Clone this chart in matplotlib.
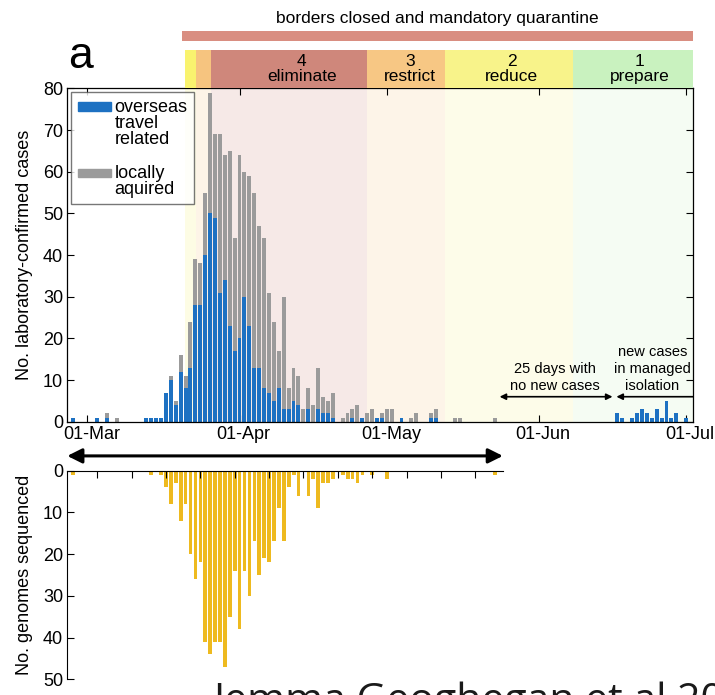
import numpy as np
import matplotlib.pyplot as plt
from matplotlib.patches import Patch, Rectangle
from matplotlib.legend_handler import HandlerPatch
from matplotlib.transforms import ScaledTranslation

plt.rcParams['font.family'] = ['Liberation Sans', 'DejaVu Sans']

# day numbers counted from 01-Mar-2020
case_days = [-3, 2, 4, 6, 12, 13, 14, 15, 16, 17, 18, 19, 20, 21, 22, 23, 24, 25, 26,
             27, 28, 29, 30, 31, 32, 33, 34, 35, 36, 37, 38, 39, 40, 41, 42, 43, 44,
             45, 46, 47, 48, 49, 50, 52, 53, 54, 55, 56, 57, 58, 59, 60, 61, 62, 64,
             66, 67, 70, 71, 75, 76, 83, 108, 109, 111, 112, 113, 114, 115, 116, 117,
             118, 119, 120, 122]
overseas = [1, 1, 1, 0, 1, 1, 1, 1, 7, 10, 4, 12, 8, 13, 28, 28, 40, 50, 49,
            31, 34, 23, 17, 20, 30, 23, 13, 13, 8, 7, 5, 8, 3, 3, 5, 4, 0,
            3, 0, 3, 2, 2, 1, 0, 0, 1, 0, 1, 0, 0, 1, 1, 0, 0, 1,
            0, 0, 1, 1, 0, 0, 0, 2, 1, 1, 2, 3, 2, 1, 3, 1,
            5, 1, 2, 1]
local = [0, 0, 1, 1, 0, 0, 0, 0, 0, 1, 1, 4, 3, 11, 11, 10, 15, 29, 20,
         38, 30, 42, 27, 44, 30, 36, 42, 34, 36, 24, 19, 9, 27, 5, 8, 7, 3,
         5, 4, 10, 4, 3, 6, 1, 2, 2, 4, 0, 2, 3, 0, 1, 3, 3, 0,
         1, 2, 1, 2, 1, 1, 1, 0, 0, 0, 0, 0, 0, 0, 0, 0,
         0, 0, 0, 0]

genome_days = [-3, 13, 15, 16, 17, 18, 19, 20, 21, 22, 23, 24, 25, 26, 27, 28, 29, 30,
               31, 32, 33, 34, 35, 36, 37, 38, 39, 40, 41, 42, 43, 45, 46, 47, 48, 49,
               50, 52, 53, 54, 55, 56, 58, 61, 83]
genomes = [1, 1, 1, 4, 8, 3, 12, 8, 20, 26, 22, 41, 44, 41, 41, 47, 35, 24,
           38, 24, 30, 17, 25, 21, 22, 17, 9, 17, 4, 1, 6, 6, 2, 9, 3, 3,
           2, 1, 2, 2, 3, 1, 1, 2, 1]

level_start = [19.9, 22.1, 25.1, 57.0, 72.8, 98.9]
level_colors = ['#f9f36e', '#f6c47f', '#cf877b', '#f7c784', '#f8f38a', '#c9f2bf']
level_names = ['4\neliminate', '3\nrestrict', '2\nreduce', '1\nprepare']
level_label_day = [43.7, 65.7, 86.5, 112.5]
border_start = 19.2

month_ticks = [0, 31, 61, 92, 122]
month_labels = ['01-Mar', '01-Apr', '01-May', '01-Jun', '01-Jul']

blue = '#1d71c2'
grey = '#9b9b9b'
gold = '#eeba1f'
x0, x1 = -4.1, 123.4
g1 = 84.6


class RaisedPatch(HandlerPatch):
    # legend patch lifted up to sit next to the first line of a multi-line label
    def __init__(self, lift, **kw):
        super().__init__(**kw)
        self.lift = lift

    def create_artists(self, legend, orig_handle, xdescent, ydescent,
                       width, height, fontsize, trans):
        p = Rectangle((-xdescent, -ydescent + self.lift * fontsize), width, height)
        self.update_prop(p, orig_handle, legend)
        p.set_transform(trans)
        return [p]


fig = plt.figure(figsize=(7.15, 6.95), dpi=100)
ax = fig.add_axes([0.0941, 0.3932, 0.8751, 0.4797])
ax_lv = fig.add_axes([0.0941, 0.8729, 0.8751, 0.0551])
ax_bd = fig.add_axes([0.0941, 0.9403, 0.8751, 0.0158])
ax_g = fig.add_axes([0.0941, 0.0226, 0.6092, 0.3004])

# alert level strip and pale background
ends = level_start[1:] + [x1]
for s, e, c in zip(level_start, ends, level_colors):
    ax_lv.axvspan(s, e, color=c, lw=0)
    ax.axvspan(s, e, color=c, alpha=0.18, lw=0, zorder=0)
for d, name in zip(level_label_day, level_names):
    ax_lv.text(d, 0.5, name, ha='center', va='center', fontsize=12.5, linespacing=0.95)
ax_lv.set_xlim(x0, x1)
ax_lv.set_ylim(0, 1)
ax_lv.axis('off')

ax_bd.axvspan(border_start, x1, color='#d98e81', lw=0)
ax_bd.set_xlim(x0, x1)
ax_bd.axis('off')
fig.text(437 / 715, 1 - 18 / 695, 'borders closed and mandatory quarantine',
         ha='center', va='center', fontsize=12.5)

# case bars
b1 = ax.bar(case_days, overseas, width=0.8, color=blue, lw=0, zorder=2)
b2 = ax.bar(case_days, local, width=0.8, bottom=overseas, color=grey, lw=0, zorder=2)
ax.set_xlim(x0, x1)
ax.set_ylim(0, 80)
ax.set_yticks(range(0, 81, 10))
ax.set_xticks(month_ticks)
ax.set_xticklabels(month_labels)
ax.tick_params(direction='in', top=True, right=True, length=5, labelsize=13, pad=3)
for lab in ax.get_xticklabels():
    lab.set_transform(lab.get_transform() + ScaledTranslation(4 / 100, 0, fig.dpi_scale_trans))
for sp in ax.spines.values():
    sp.set_linewidth(0.9)
ax.set_ylabel('No. laboratory-confirmed cases', fontsize=13)
ax.yaxis.set_label_coords(-0.0548, 0.5)

h1 = Patch(color=blue)
h2 = Patch(color=grey)
leg = ax.legend(handles=[h1, h2],
                labels=['overseas\ntravel\nrelated', 'locally\naquired'],
                handler_map={h1: RaisedPatch(0.92), h2: RaisedPatch(0.46)},
                loc='upper left', fontsize=13, frameon=True, fancybox=False,
                borderaxespad=0.22, handlelength=1.85, handleheight=0.38,
                handletextpad=0.2, labelspacing=0.9, borderpad=0.35)
leg.get_frame().set_edgecolor('#555555')
leg.get_frame().set_linewidth(1.0)
for t in leg.get_texts():
    t.set_linespacing(0.95)

# annotations
ax.annotate('', xy=(84, 6), xytext=(107, 6),
            arrowprops=dict(arrowstyle='<|-|>', color='black', lw=1.2,
                            mutation_scale=9, shrinkA=0, shrinkB=0))
ax.annotate('', xy=(107.8, 6), xytext=(x1, 6), annotation_clip=False,
            arrowprops=dict(arrowstyle='-|>', color='black', lw=1.2,
                            mutation_scale=9, shrinkA=0, shrinkB=0))
ax.text(95.2, 6.9, '25 days with\nno new cases', ha='center', va='bottom',
        fontsize=10.5, linespacing=1.25)
ax.text(115.1, 6.9, 'new cases\nin managed\nisolation', ha='center', va='bottom',
        fontsize=10.5, linespacing=1.25)

fig.text(68 / 715, 1 - 68 / 695, 'a', fontsize=32, va='baseline', ha='left')

# genomes
ax_g.bar(genome_days, genomes, width=0.75, color=gold, lw=0)
ax_g.set_xlim(x0, g1)
ax_g.set_ylim(50, 0)
ax_g.xaxis.tick_top()
ax_g.set_xticks(np.arange(2, 84, 7))
ax_g.set_xticklabels([])
ax_g.set_yticks(range(0, 51, 10))
ax_g.tick_params(direction='in', length=5, labelsize=13, pad=3)
ax_g.spines['bottom'].set_visible(False)
ax_g.spines['right'].set_visible(False)
ax_g.set_ylabel('No. genomes sequenced', fontsize=13)
ax_g.yaxis.set_label_coords(-0.0787, 0.5)
ax_g.annotate('', xy=(x0, -3.5), xytext=(g1, -3.5), annotation_clip=False,
              arrowprops=dict(arrowstyle='<|-|>', color='black', lw=2.2,
                              mutation_scale=22, shrinkA=0, shrinkB=0))

fig.text(213 / 715, 1 - 681 / 695, 'Jemma Geoghegan et al 2020', fontsize=29.5,
         family=['Open Sans', 'DejaVu Sans'], va='top', ha='left', color='#1a1a1a')

fig.savefig('out.png', dpi=100)
